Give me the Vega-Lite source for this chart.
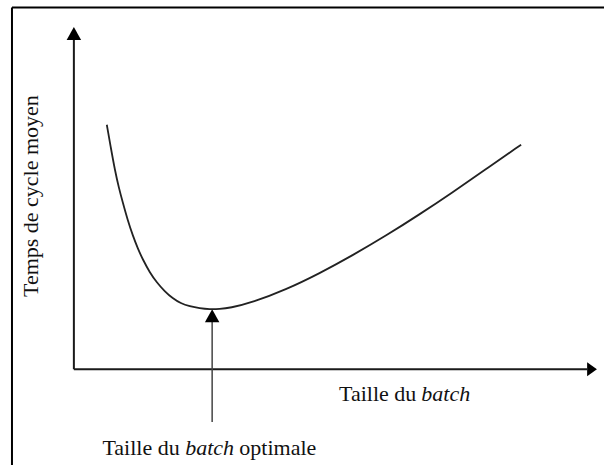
{
  "$schema": "https://vega.github.io/schema/vega-lite/v6.json",
  "autosize": {"type": "fit", "contains": "padding"},
  "width": 605,
  "height": 466,
  "padding": 0,
  "background": "white",
  "config": {"view": {"stroke": null}},
  "layer": [
    {
      "data": {"values": [
        {"x": -62, "y": 362.5, "x2": 531, "y2": 362.5},
        {"x": -62, "y": 362.5, "x2": -62, "y2": -96}
      ]},
      "mark": {"type": "rule", "color": "#000", "strokeWidth": 2},
      "encoding": {
        "x": {"field": "x", "type": "quantitative", "scale": {"domain": [-74, 531], "nice": false, "zero": false}, "axis": null},
        "y": {"field": "y", "type": "quantitative", "scale": {"domain": [-96, 370], "nice": false, "zero": false}, "axis": null},
        "x2": {"field": "x2"},
        "y2": {"field": "y2"}
      }
    },
    {
      "data": {"values": [
        {"x": 0, "y": 0, "x2": 0, "y2": 332},
        {"x": 0, "y": 0, "x2": 514, "y2": 0}
      ]},
      "mark": {"type": "rule", "color": "#1a1a1a", "strokeWidth": 2},
      "encoding": {
        "x": {"field": "x", "type": "quantitative", "scale": {"domain": [-74, 531], "nice": false, "zero": false}, "axis": null},
        "y": {"field": "y", "type": "quantitative", "scale": {"domain": [-96, 370], "nice": false, "zero": false}, "axis": null},
        "x2": {"field": "x2"},
        "y2": {"field": "y2"}
      }
    },
    {
      "data": {"values": [
        {"x": 138.5, "y": -53, "x2": 138.5, "y2": 48}
      ]},
      "mark": {"type": "rule", "color": "#444", "strokeWidth": 1.5},
      "encoding": {
        "x": {"field": "x", "type": "quantitative", "scale": {"domain": [-74, 531], "nice": false, "zero": false}, "axis": null},
        "y": {"field": "y", "type": "quantitative", "scale": {"domain": [-96, 370], "nice": false, "zero": false}, "axis": null},
        "x2": {"field": "x2"},
        "y2": {"field": "y2"}
      }
    },
    {
      "data": {"values": [
        {"x": 0, "y": 336.5},
        {"x": 138.5, "y": 53.5}
      ]},
      "mark": {"type": "point", "shape": "M0,-0.9L1,0.9L-1,0.9Z", "filled": true, "color": "#000", "opacity": 1, "size": 210, "strokeWidth": 0},
      "encoding": {
        "x": {"field": "x", "type": "quantitative", "scale": {"domain": [-74, 531], "nice": false, "zero": false}, "axis": null},
        "y": {"field": "y", "type": "quantitative", "scale": {"domain": [-96, 370], "nice": false, "zero": false}, "axis": null}
      }
    },
    {
      "data": {"values": [
        {"x": 519, "y": 0}
      ]},
      "mark": {"type": "point", "shape": "M0.7,0L-0.7,-1L-0.7,1Z", "filled": true, "color": "#000", "opacity": 1, "size": 196, "strokeWidth": 0},
      "encoding": {
        "x": {"field": "x", "type": "quantitative", "scale": {"domain": [-74, 531], "nice": false, "zero": false}, "axis": null},
        "y": {"field": "y", "type": "quantitative", "scale": {"domain": [-96, 370], "nice": false, "zero": false}, "axis": null}
      }
    },
    {
      "data": {"values": [
        {"x": 33, "y": 245}, {"x": 37, "y": 222}, {"x": 41, "y": 200}, {"x": 45, "y": 182},
        {"x": 49, "y": 167}, {"x": 54, "y": 149}, {"x": 59, "y": 134}, {"x": 64, "y": 121},
        {"x": 69, "y": 110}, {"x": 76, "y": 97}, {"x": 83, "y": 87}, {"x": 91, "y": 78},
        {"x": 99, "y": 71}, {"x": 107, "y": 66}, {"x": 116, "y": 63}, {"x": 126, "y": 61},
        {"x": 136, "y": 60}, {"x": 146, "y": 60.3}, {"x": 156, "y": 61.3}, {"x": 179, "y": 67},
        {"x": 213, "y": 80}, {"x": 246, "y": 96}, {"x": 279, "y": 114}, {"x": 313, "y": 134},
        {"x": 346, "y": 155}, {"x": 379, "y": 177}, {"x": 412, "y": 200}, {"x": 448, "y": 225}
      ]},
      "mark": {"type": "line", "color": "#222", "strokeWidth": 1.8, "interpolate": "basis"},
      "encoding": {
        "x": {"field": "x", "type": "quantitative", "scale": {"domain": [-74, 531], "nice": false, "zero": false}, "axis": null},
        "y": {"field": "y", "type": "quantitative", "scale": {"domain": [-96, 370], "nice": false, "zero": false}, "axis": null}
      }
    },
    {
      "data": {"values": [
        {"x": 343, "y": -32, "label": "Taille du"},
        {"x": 106, "y": -86, "label": "Taille du"}
      ]},
      "mark": {"type": "text", "font": "Liberation Serif", "fontSize": 22, "align": "right", "baseline": "alphabetic", "color": "#111"},
      "encoding": {
        "x": {"field": "x", "type": "quantitative", "scale": {"domain": [-74, 531], "nice": false, "zero": false}, "axis": null},
        "y": {"field": "y", "type": "quantitative", "scale": {"domain": [-96, 370], "nice": false, "zero": false}, "axis": null},
        "text": {"field": "label"}
      }
    },
    {
      "data": {"values": [
        {"x": 348, "y": -32, "label": "batch"},
        {"x": 111.5, "y": -86, "label": "batch"}
      ]},
      "mark": {"type": "text", "font": "Liberation Serif", "fontSize": 22, "fontStyle": "italic", "align": "left", "baseline": "alphabetic", "color": "#111"},
      "encoding": {
        "x": {"field": "x", "type": "quantitative", "scale": {"domain": [-74, 531], "nice": false, "zero": false}, "axis": null},
        "y": {"field": "y", "type": "quantitative", "scale": {"domain": [-96, 370], "nice": false, "zero": false}, "axis": null},
        "text": {"field": "label"}
      }
    },
    {
      "data": {"values": [
        {"x": 165.7, "y": -86, "label": "optimale"}
      ]},
      "mark": {"type": "text", "font": "Liberation Serif", "fontSize": 22, "align": "left", "baseline": "alphabetic", "color": "#111"},
      "encoding": {
        "x": {"field": "x", "type": "quantitative", "scale": {"domain": [-74, 531], "nice": false, "zero": false}, "axis": null},
        "y": {"field": "y", "type": "quantitative", "scale": {"domain": [-96, 370], "nice": false, "zero": false}, "axis": null},
        "text": {"field": "label"}
      }
    },
    {
      "data": {"values": [
        {"x": -43, "y": 173.5, "label": "Temps de cycle moyen"}
      ]},
      "mark": {"type": "text", "font": "Liberation Serif", "fontSize": 22, "angle": 270, "align": "center", "baseline": "middle", "color": "#111"},
      "encoding": {
        "x": {"field": "x", "type": "quantitative", "scale": {"domain": [-74, 531], "nice": false, "zero": false}, "axis": null},
        "y": {"field": "y", "type": "quantitative", "scale": {"domain": [-96, 370], "nice": false, "zero": false}, "axis": null},
        "text": {"field": "label"}
      }
    }
  ]
}
